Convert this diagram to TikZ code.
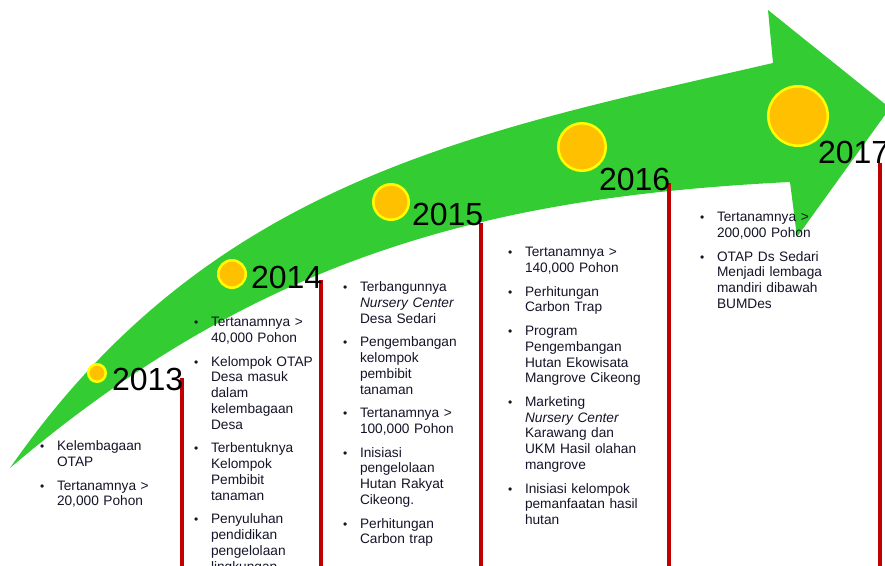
\documentclass[tikz,border=0pt]{standalone}
\usepackage{fontspec}
\setmainfont{Liberation Sans}
\definecolor{arrowgreen}{RGB}{51,204,51}
\definecolor{dotorange}{RGB}{255,192,0}
\definecolor{dotyellow}{RGB}{255,255,0}
\definecolor{postred}{RGB}{192,0,0}
\definecolor{notetext}{RGB}{20,20,40}
% one bullet point with a hanging indent; lines are broken by hand with \newline
\newcommand\bitem[1]{\par\hangindent=17pt\hangafter=1\noindent\strut\makebox[17pt][l]{{\fontsize{12}{12}\selectfont\textbullet}}#1\par\vspace{7.7pt}}
\begin{document}
\begin{tikzpicture}[x=1pt,y=-1pt,
  every node/.style={inner sep=0pt, outer sep=0pt},
  yearlabel/.style={anchor=base west, font=\fontsize{32}{36}\selectfont},
  dot/.style={circle, fill=dotorange, draw=dotyellow, line width=2.5pt},
  post/.style={draw=postred, line width=4pt},
  notes/.style={anchor=north west, text width=175pt, align=left,
    font=\fontsize{13.7}{15.8}\selectfont, text=notetext},
]
\useasboundingbox (0,0) rectangle (885,565);

% curved growth arrow
\fill[arrowgreen]
  (10,468) .. controls (210,180) and (473,132) .. (773,63)
  -- (768,10) -- (890,108) -- (797,237) -- (790,182)
  .. controls (490,197) and (260,255.5) .. (10,468)
  -- cycle;

% timeline posts
\coordinate (floor) at (0,566);
\coordinate (p13) at (181.5,378);
\coordinate (p14) at (321,280);
\coordinate (p15) at (481,223);
\coordinate (p16) at (669,183);
\coordinate (p17) at (880,163);
\foreach \p in {p13,p14,p15,p16,p17}
  \draw[post] (\p) -- (\p |- floor);

% milestones on the arrow
\node[dot, minimum size=17.5pt] (d13) at (97,373) {};
\node[dot, minimum size=27.5pt] (d14) at (232,274) {};
\node[dot, minimum size=35.5pt] (d15) at (391,202) {};
\node[dot, minimum size=47.5pt] (d16) at (582,147) {};
\node[dot, minimum size=59.5pt] (d17) at (798,116) {};

% years
\node[yearlabel] (y13) at (112,390) {2013};
\node[yearlabel] (y14) at (251,288) {2014};
\node[yearlabel] (y15) at (412,225) {2015};
\node[yearlabel] (y16) at (599,190) {2016};
\node[yearlabel] (y17) at (818,163) {2017};

% achievements per year
\node[notes] (n13) at (40,435) {%
  \bitem{Kelembagaan\newline OTAP}
  \bitem{Tertanamnya >\newline 20,000 Pohon}};

\node[notes] (n14) at (194,311) {%
  \bitem{Tertanamnya >\newline 40,000 Pohon}
  \bitem{Kelompok OTAP\newline Desa masuk\newline dalam\newline kelembagaan\newline Desa}
  \bitem{Terbentuknya\newline Kelompok\newline Pembibit\newline tanaman}
  \bitem{Penyuluhan\newline pendidikan\newline pengelolaan\newline lingkungan}};

\node[notes] (n15) at (343,276) {%
  \bitem{Terbangunnya\newline \textit{Nursery Center}\newline Desa Sedari}
  \bitem{Pengembangan\newline kelompok\newline pembibit\newline tanaman}
  \bitem{Tertanamnya >\newline 100,000 Pohon}
  \bitem{Inisiasi\newline pengelolaan\newline Hutan Rakyat\newline Cikeong.}
  \bitem{Perhitungan\newline Carbon trap}};

\node[notes] (n16) at (508,241) {%
  \bitem{Tertanamnya >\newline 140,000 Pohon}
  \bitem{Perhitungan\newline Carbon Trap}
  \bitem{Program\newline Pengembangan\newline Hutan Ekowisata\newline Mangrove Cikeong}
  \bitem{Marketing\newline \textit{Nursery Center}\newline Karawang dan\newline UKM Hasil olahan\newline mangrove}
  \bitem{Inisiasi kelompok\newline pemanfaatan hasil\newline hutan}};

\node[notes] (n17) at (700,206) {%
  \bitem{Tertanamnya >\newline 200,000 Pohon}
  \bitem{OTAP Ds Sedari\newline Menjadi lembaga\newline mandiri dibawah\newline BUMDes}};
\end{tikzpicture}
\end{document}
